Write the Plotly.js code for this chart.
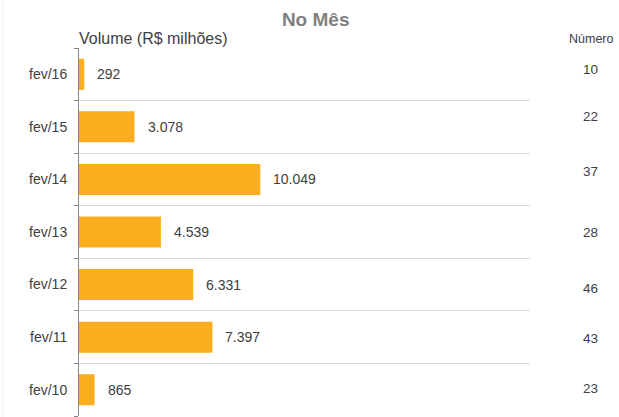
<!DOCTYPE html>
<html>
<head>
<meta charset="utf-8">
<script src="https://cdn.plot.ly/plotly-3.0.1.min.js"></script>
<style>html,body{margin:0;padding:0;background:#fff;}#chart{width:619px;height:417px;}</style>
</head>
<body>
<div id="chart"></div>
<script>
const categories = ['fev/10','fev/11','fev/12','fev/13','fev/14','fev/15','fev/16'];
const volumes = [865, 7397, 6331, 4539, 10049, 3078, 292];
const numeros = [23, 43, 46, 28, 37, 22, 10];
const numeroShift = [1, -1, -4, 0, 8, 10, 5];

const font = '"Liberation Sans", Arial, sans-serif';
const txt = '#404040';

const trace = {
  type: 'bar',
  orientation: 'h',
  y: categories,
  x: volumes,
  marker: {color: '#F9AD1F'},
  hoverinfo: 'none',
  width: 0.59
};

const annotations = [];
volumes.forEach((v, i) => {
  annotations.push({
    x: v, y: categories[i], xref: 'x', yref: 'y',
    text: v.toLocaleString('de-DE'),
    showarrow: false, xanchor: 'left', xshift: 11,
    font: {family: font, size: 14, color: txt}
  });
  annotations.push({
    x: 1.135, y: categories[i], xref: 'paper', yref: 'y',
    text: String(numeros[i]), showarrow: false, xanchor: 'center',
    yshift: numeroShift[i],
    font: {family: font, size: 13.5, color: txt}
  });
});
annotations.push({x: 1.137, y: 1.0245, xref: 'paper', yref: 'paper', text: 'Número', showarrow: false,
  xanchor: 'center', yanchor: 'middle', font: {family: font, size: 12.5, color: txt}});
annotations.push({x: 0, y: 1.027, xref: 'paper', yref: 'paper', text: 'Volume (R$ milhões)', showarrow: false,
  xanchor: 'left', yanchor: 'middle', xshift: -2, font: {family: font, size: 16, color: txt}});

const layout = {
  width: 619, height: 417,
  margin: {l: 79, r: 89, t: 48, b: 1, pad: 0},
  paper_bgcolor: '#fff', plot_bgcolor: '#fff',
  separators: ',.',
  showlegend: false,
  title: {text: '<b>No Mês</b>', x: 0.510, xanchor: 'center', y: 0.954, yanchor: 'middle',
    font: {family: font, size: 19, color: '#808080'}},
  xaxis: {range: [0, 25000], showgrid: false, zeroline: false, showticklabels: false, showline: false, fixedrange: true},
  yaxis: {type: 'category', categoryarray: categories, tickson: 'boundaries',
    showgrid: true, gridcolor: '#d9d9d9', gridwidth: 1,
    showline: true, linecolor: '#868686', linewidth: 1,
    ticks: 'outside', ticklen: 4, tickcolor: '#868686',
    tickfont: {family: font, size: 14, color: txt}, ticklabelstandoff: 8},
  annotations: annotations,
  shapes: [{type: 'line', xref: 'paper', yref: 'paper', x0: -0.1685, x1: -0.1685, y0: -0.01, y1: 1.14,
    line: {color: '#eeeeee', width: 1}}]
};

Plotly.newPlot('chart', [trace], layout, {displayModeBar: false, staticPlot: true});
</script>
</body>
</html>
